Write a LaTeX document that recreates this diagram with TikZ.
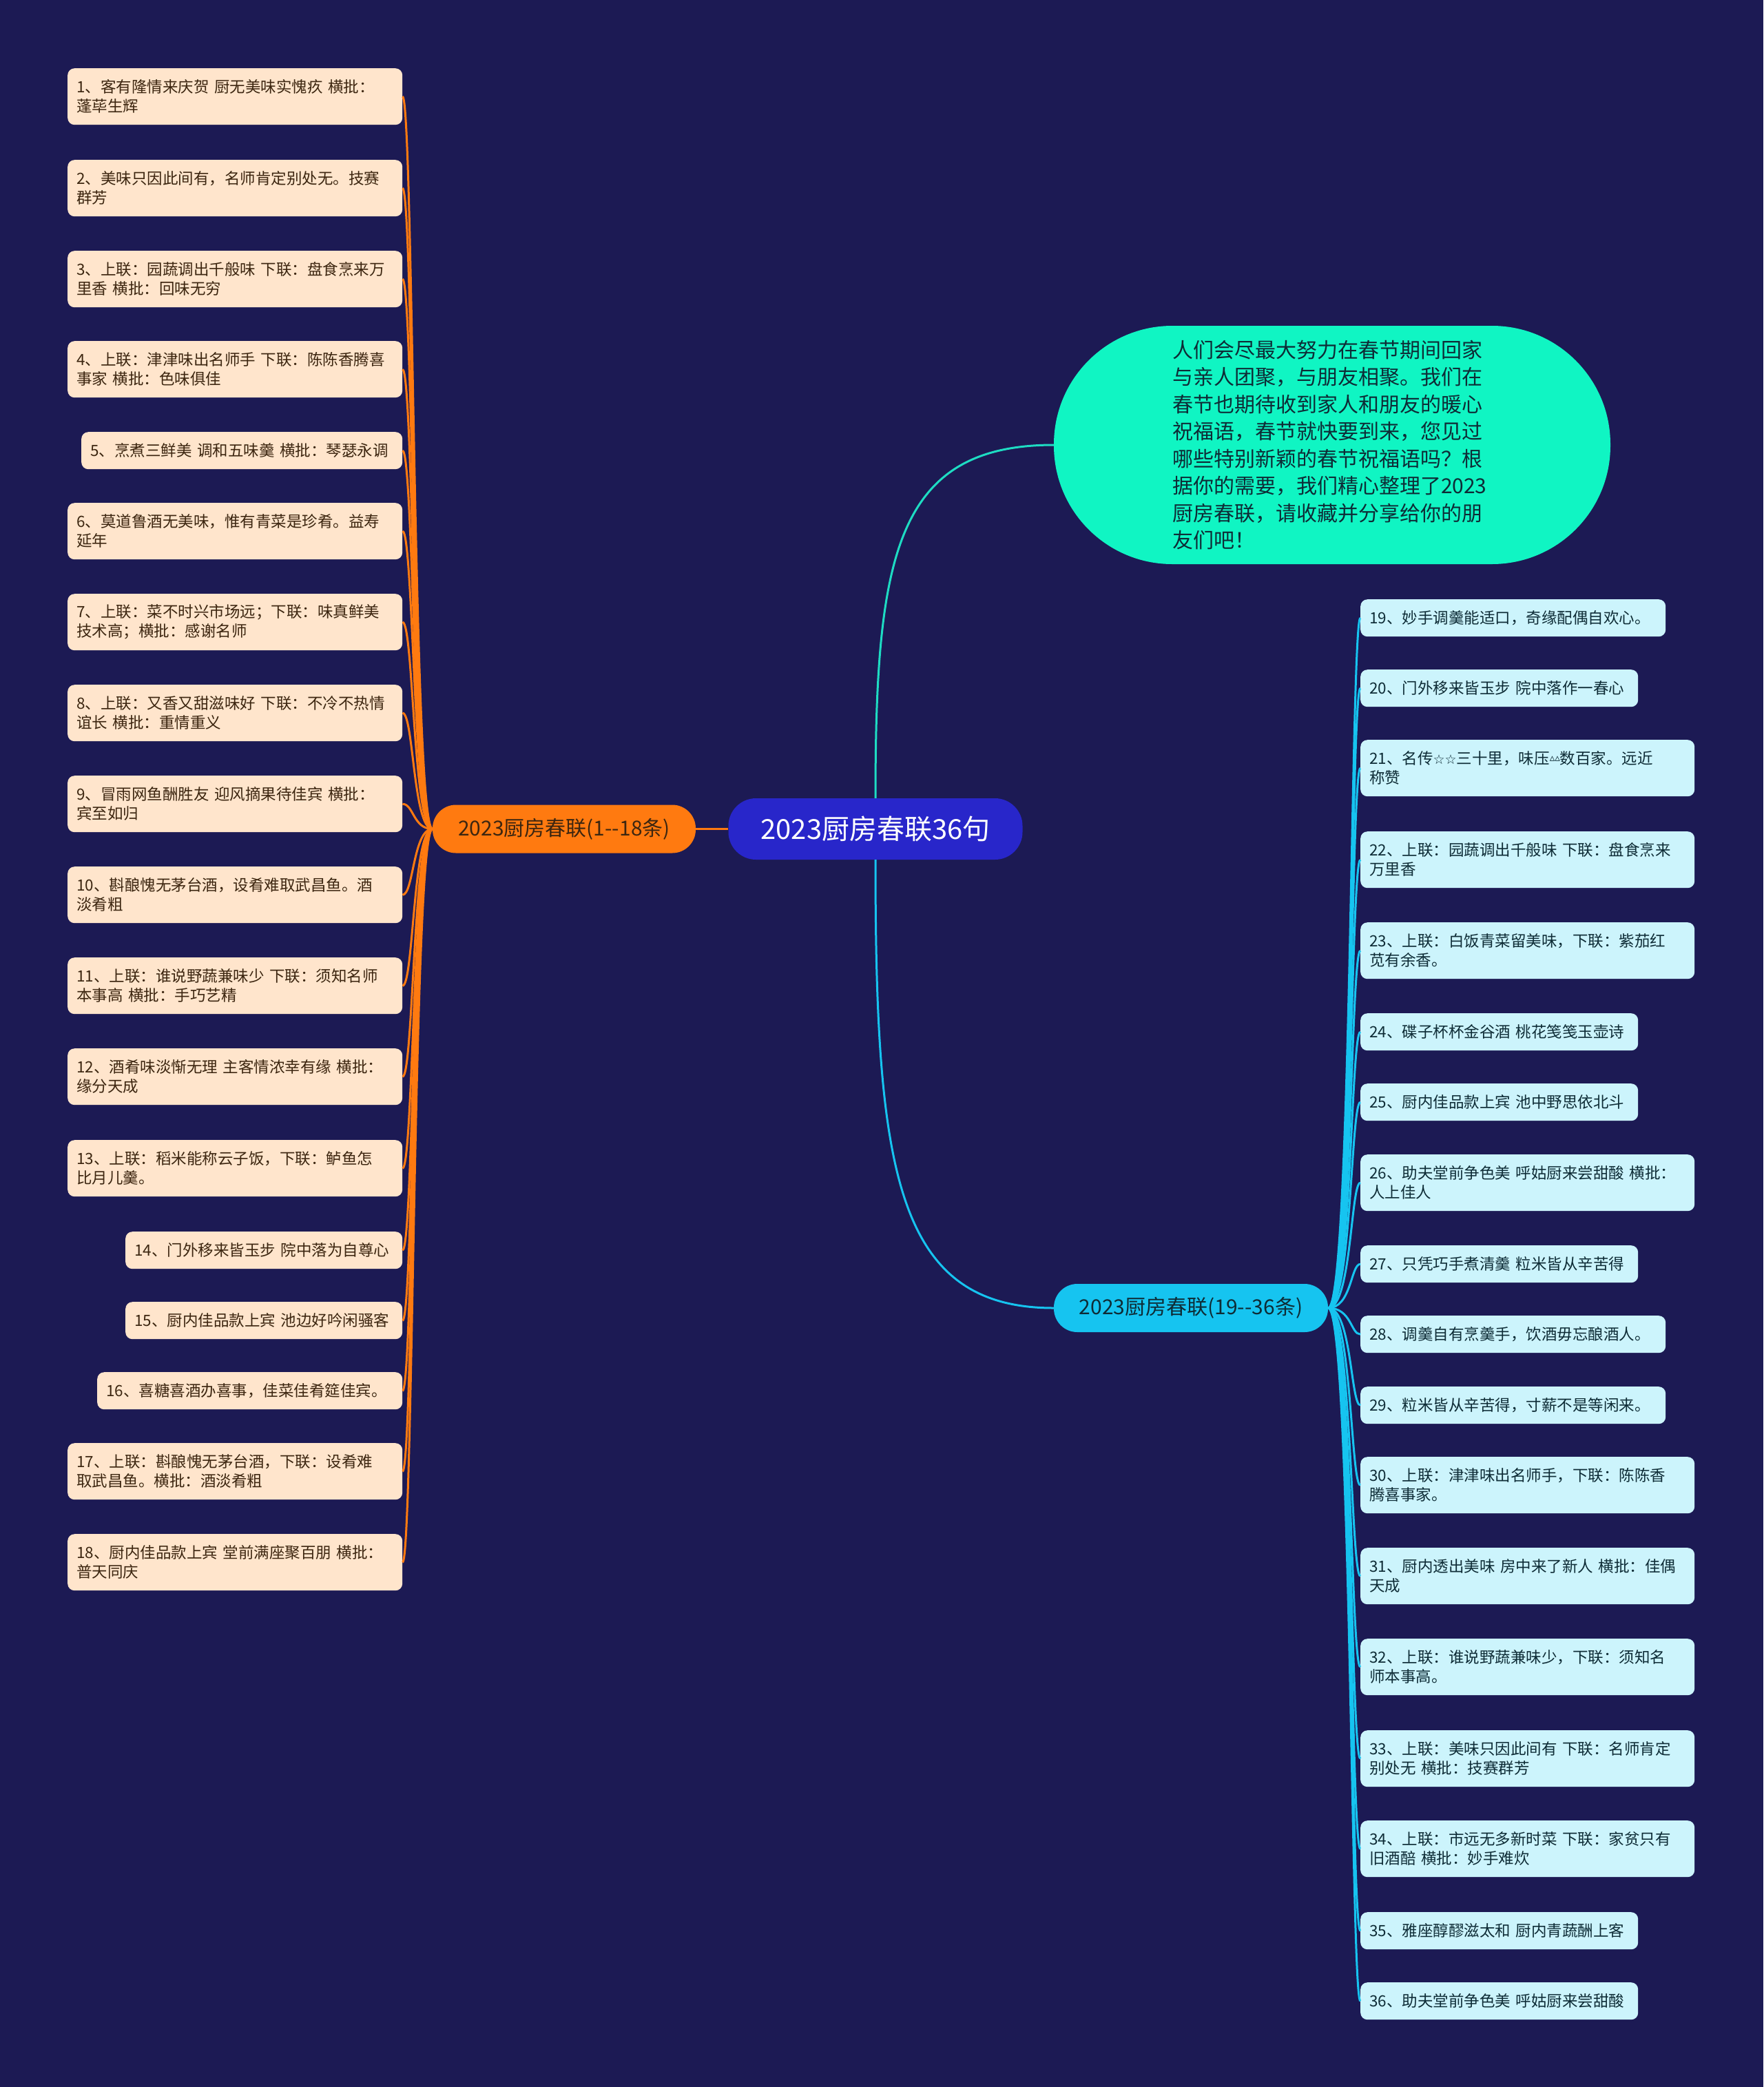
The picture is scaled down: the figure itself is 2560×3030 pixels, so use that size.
\documentclass[tikz,border=0pt]{standalone}
\usepackage{fontspec}
\setmainfont{Noto Sans CJK SC}
\newfontfamily\djv{DejaVu Sans}
\usetikzlibrary{calc}
\definecolor{bgC}{RGB}{28,26,84}
\definecolor{rootC}{RGB}{40,38,202}
\definecolor{orangeC}{RGB}{255,122,16}
\definecolor{cyanC}{RGB}{22,196,240}
\definecolor{mintC}{RGB}{16,245,195}
\definecolor{tealL}{RGB}{30,220,195}
\definecolor{peachC}{RGB}{255,229,204}
\definecolor{lcyanC}{RGB}{204,244,252}
\definecolor{brownT}{RGB}{60,38,16}
\definecolor{tealT}{RGB}{14,44,54}
\tikzset{
  leafbase/.style={rounded corners=10pt, align=left, inner xsep=13pt, inner ysep=0pt, anchor=north west, font=\fontsize{22.5}{28}\selectfont},
  lleaf/.style={leafbase, fill=peachC, text=brownT},
  rleaf/.style={leafbase, fill=lcyanC, text=tealT},
  dbl/.style={minimum height=82pt},
  sgl/.style={minimum height=54pt},
  oline/.style={draw=orangeC, line width=3pt},
  cline/.style={draw=cyanC, line width=3pt},
  gline/.style={draw=tealL, line width=3pt},
  rootn/.style={fill=rootC, text=white, rounded corners=40pt, minimum width=427pt, minimum height=89pt, inner sep=0pt, font=\fontsize{40}{48}\selectfont},
  branchn/.style={rounded corners=34pt, minimum height=70pt, inner sep=0pt, font=\fontsize{30}{36}\selectfont},
}
\begin{document}
\begin{tikzpicture}[x=1pt,y=-1pt]
\useasboundingbox (0,0) rectangle (2560,3030);
\fill[bgC] (0,0) rectangle (2560,3030);

% central nodes
\node[rootn] (root) at (1271,1203.5) {2023厨房春联36句};
\node[branchn, fill=orangeC, text=brownT, minimum width=382pt] (lb) at (819,1203.5) {2023厨房春联(1-{}-18条)};
\node[branchn, fill=cyanC, text=tealT, minimum width=398pt] (rb) at (1729,1899) {2023厨房春联(19-{}-36条)};
\node[fill=mintC, text=tealT, rounded corners=172pt, minimum width=808pt, minimum height=346pt, text width=464pt, align=left, font=\fontsize{30}{39.5}\selectfont] (gn) at (1934,646) {人们会尽最大努力在春节期间回家\\与亲人团聚，与朋友相聚。我们在\\春节也期待收到家人和朋友的暖心\\祝福语，春节就快要到来，您见过\\哪些特别新颖的春节祝福语吗？根\\据你的需要，我们精心整理了2023\\厨房春联，请收藏并分享给你的朋\\友们吧！};

% left leaves
\node[lleaf, dbl, text width=460pt] (l1) at (98,99) {1、客有隆情来庆贺~厨无美味实愧疚~横批：\\蓬荜生辉};
\node[lleaf, dbl, text width=460pt] (l2) at (98,232) {2、美味只因此间有，名师肯定别处无。技赛\\群芳};
\node[lleaf, dbl, text width=460pt] (l3) at (98,364) {3、上联：园蔬调出千般味~下联：盘食烹来万\\里香~横批：回味无穷};
\node[lleaf, dbl, text width=460pt] (l4) at (98,495) {4、上联：津津味出名师手~下联：陈陈香腾喜\\事家~横批：色味俱佳};
\node[lleaf, sgl, text width=440pt] (l5) at (118,627) {5、烹煮三鲜美~调和五味羹~横批：琴瑟永调};
\node[lleaf, dbl, text width=460pt] (l6) at (98,730) {6、莫道鲁酒无美味，惟有青菜是珍肴。益寿\\延年};
\node[lleaf, dbl, text width=460pt] (l7) at (98,862) {7、上联：菜不时兴市场远；下联：味真鲜美\\技术高；横批：感谢名师};
\node[lleaf, dbl, text width=460pt] (l8) at (98,994) {8、上联：又香又甜滋味好~下联：不冷不热情\\谊长~横批：重情重义};
\node[lleaf, dbl, text width=460pt] (l9) at (98,1126) {9、冒雨网鱼酬胜友~迎风摘果待佳宾~横批：\\宾至如归};
\node[lleaf, dbl, text width=460pt] (l10) at (98,1258) {10、斟酿愧无茅台酒，设肴难取武昌鱼。酒\\淡肴粗};
\node[lleaf, dbl, text width=460pt] (l11) at (98,1390) {11、上联：谁说野蔬兼味少~下联：须知名师\\本事高~横批：手巧艺精};
\node[lleaf, dbl, text width=460pt] (l12) at (98,1522) {12、酒肴味淡惭无理~主客情浓幸有缘~横批：\\缘分天成};
\node[lleaf, dbl, text width=460pt] (l13) at (98,1655) {13、上联：稻米能称云子饭，下联：鲈鱼怎\\比月儿羹。};
\node[lleaf, sgl, text width=376pt] (l14) at (182,1788) {14、门外移来皆玉步~院中落为自尊心};
\node[lleaf, sgl, text width=376pt] (l15) at (182,1890) {15、厨内佳品款上宾~池边好吟闲骚客};
\node[lleaf, sgl, text width=417pt] (l16) at (141,1992) {16、喜糖喜酒办喜事，佳菜佳肴筵佳宾。};
\node[lleaf, dbl, text width=460pt] (l17) at (98,2095) {17、上联：斟酿愧无茅台酒，下联：设肴难\\取武昌鱼。横批：酒淡肴粗};
\node[lleaf, dbl, text width=460pt] (l18) at (98,2227) {18、厨内佳品款上宾~堂前满座聚百朋~横批：\\普天同庆};

% right leaves
\node[rleaf, sgl, text width=417pt] (r19) at (1975,870) {19、妙手调羹能适口，奇缘配偶自欢心。};
\node[rleaf, sgl, text width=377pt] (r20) at (1975,972) {20、门外移来皆玉步~院中落作一春心};
\node[rleaf, dbl, text width=459pt] (r21) at (1975,1074) {21、名传{\djv\fontsize{19}{23}\selectfont ☆☆}三十里，味压{\djv\fontsize{15}{23}\selectfont\raisebox{4pt}{▵▵}}数百家。远近\\称赞};
\node[rleaf, dbl, text width=459pt] (r22) at (1975,1207) {22、上联：园蔬调出千般味~下联：盘食烹来\\万里香};
\node[rleaf, dbl, text width=459pt] (r23) at (1975,1339) {23、上联：白饭青菜留美味，下联：紫茄红\\苋有余香。};
\node[rleaf, sgl, text width=377pt] (r24) at (1975,1471) {24、碟子杯杯金谷酒~桃花笺笺玉壶诗};
\node[rleaf, sgl, text width=377pt] (r25) at (1975,1573) {25、厨内佳品款上宾~池中野思依北斗};
\node[rleaf, dbl, text width=459pt] (r26) at (1975,1676) {26、助夫堂前争色美~呼姑厨来尝甜酸~横批：\\人上佳人};
\node[rleaf, sgl, text width=377pt] (r27) at (1975,1808) {27、只凭巧手煮清羹~粒米皆从辛苦得};
\node[rleaf, sgl, text width=417pt] (r28) at (1975,1910) {28、调羹自有烹羹手，饮酒毋忘酿酒人。};
\node[rleaf, sgl, text width=417pt] (r29) at (1975,2013) {29、粒米皆从辛苦得，寸薪不是等闲来。};
\node[rleaf, dbl, text width=459pt] (r30) at (1975,2115) {30、上联：津津味出名师手，下联：陈陈香\\腾喜事家。};
\node[rleaf, dbl, text width=459pt] (r31) at (1975,2247) {31、厨内透出美味~房中来了新人~横批：佳偶\\天成};
\node[rleaf, dbl, text width=459pt] (r32) at (1975,2379) {32、上联：谁说野蔬兼味少，下联：须知名\\师本事高。};
\node[rleaf, dbl, text width=459pt] (r33) at (1975,2512) {33、上联：美味只因此间有~下联：名师肯定\\别处无~横批：技赛群芳};
\node[rleaf, dbl, text width=459pt] (r34) at (1975,2643) {34、上联：市远无多新时菜~下联：家贫只有\\旧酒醅~横批：妙手难炊};
\node[rleaf, sgl, text width=377pt] (r35) at (1975,2776) {35、雅座醇醪滋太和~厨内青蔬酬上客};
\node[rleaf, sgl, text width=377pt] (r36) at (1975,2878) {36、助夫堂前争色美~呼姑厨来尝甜酸};

% connectors
\draw[oline] (root.west) -- (lb.east);
\draw[gline] (root.north) .. controls ($(root.north)+(0,-350)$) and ($(gn.west)+(-230,0)$) .. (gn.west);
\draw[cline] (root.south) .. controls ($(root.south)+(0,450)$) and ($(rb.west)+(-230,0)$) .. (rb.west);
\foreach \i in {1,...,18}
  \draw[oline] (lb.west) .. controls ($(lb.west)+(-28,0)$) and ($(l\i.east)+(16,0)$) .. (l\i.east);
\foreach \i in {19,...,36}
  \draw[cline] (rb.east) .. controls ($(rb.east)+(34,0)$) and ($(r\i.west)+(-14,0)$) .. (r\i.west);
\end{tikzpicture}
\end{document}
